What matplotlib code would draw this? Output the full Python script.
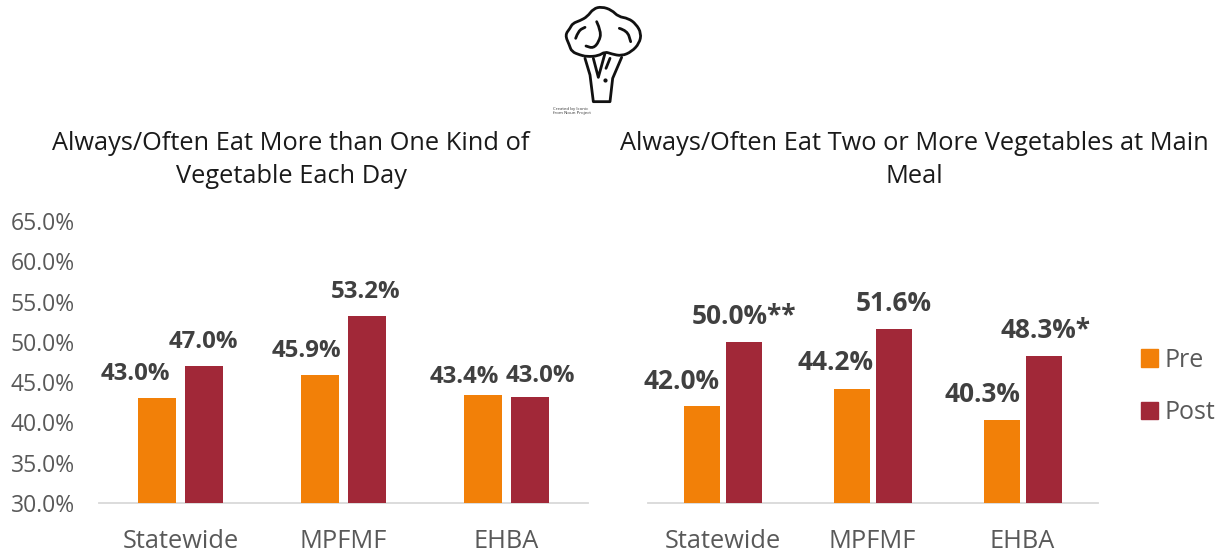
import matplotlib
matplotlib.use('Agg')
import matplotlib.pyplot as plt
from matplotlib.path import Path
from matplotlib.patches import PathPatch, Patch
from matplotlib.ticker import FuncFormatter

plt.rcParams['font.family'] = ['Open Sans', 'DejaVu Sans']

categories = ['Statewide', 'MPFMF', 'EHBA']
series_names = ['Pre', 'Post']

left_title = 'Always/Often Eat More than One Kind of\nVegetable Each Day'
left_pre = [43.0, 45.9, 43.4]
left_post = [47.0, 53.2, 43.2]
left_pre_labels = ['43.0%', '45.9%', '43.4%']
left_post_labels = ['47.0%', '53.2%', '43.0%']

right_title = 'Always/Often Eat Two or More Vegetables at Main\nMeal'
right_pre = [42.0, 44.2, 40.3]
right_post = [50.0, 51.6, 48.3]
right_pre_labels = ['42.0%', '44.2%', '40.3%']
right_post_labels = ['50.0%**', '51.6%', '48.3%*']

y_ticks = [30, 35, 40, 45, 50, 55, 60, 65]

# label nudges in pixels (the original labels were moved by hand)
left_pre_off = [(-21.5, 24), (-14, 24), (-18.5, 18)]
left_post_off = [(0, 24), (-1, 24), (11, 21)]
right_pre_off = [(-20, 25), (-16, 26), (-19, 26)]
right_post_off = [(0, 25), (0, 25), (2, 25)]

ORANGE = '#F28008'
MAROON = '#A12838'
GREY = '#595959'
W, H = 1224, 554

fig = plt.figure(figsize=(12.24, 5.54), dpi=100)


def make_axes(x0, x1):
    ax = fig.add_axes([x0 / W, 1 - 503 / H, (x1 - x0) / W, (503 - 221) / H])
    ax.set_xlim(-0.5, 2.5)
    ax.set_ylim(30, 65)
    ax.patch.set_visible(False)
    for s in ['top', 'left', 'right']:
        ax.spines[s].set_visible(False)
    ax.spines['bottom'].set_color('#D9D9D9')
    ax.spines['bottom'].set_linewidth(1.3)
    ax.set_xticks(range(3))
    ax.set_xticklabels(categories, fontsize=18.3, color=GREY)
    ax.tick_params(axis='x', length=0, pad=18.5)
    ax.set_yticks(y_ticks)
    ax.yaxis.set_major_formatter(FuncFormatter(lambda v, p: '%.1f%%' % v))
    ax.tick_params(axis='y', length=0, pad=17.3, labelsize=16.5, labelcolor=GREY)
    return ax


def draw_group(ax, pre, post, pre_labels, post_labels, pre_off, post_off, off, width, label_size):
    for i in range(3):
        for val, col, sign, lab, nudge in [(pre[i], ORANGE, -1, pre_labels[i], pre_off[i]),
                                           (post[i], MAROON, 1, post_labels[i], post_off[i])]:
            x = i + sign * off
            ax.bar(x, val - 30, width=width, bottom=30, color=col, edgecolor='none', zorder=3)
            ax.annotate(lab, (x, val), xytext=nudge, textcoords='offset pixels', ha='center',
                        va='center', fontsize=label_size, fontweight='bold', color='#404040')


ax1 = make_axes(99, 588)
draw_group(ax1, left_pre, left_post, left_pre_labels, left_post_labels,
           left_pre_off, left_post_off, 0.143, 0.232, 17.3)

ax2 = make_axes(647.5, 1097.5)
ax2.tick_params(axis='y', labelleft=False)
draw_group(ax2, right_pre, right_post, right_pre_labels, right_post_labels,
           right_pre_off, right_post_off, 0.14, 0.24, 18.9)

fig.text(291 / W, 1 - 160 / H, left_title, ha='center', va='center', fontsize=18.25,
         color='#1a1a1a', linespacing=1.45)
fig.text(914 / W, 1 - 160 / H, right_title, ha='center', va='center', fontsize=18.25,
         color='#1a1a1a', linespacing=1.45)

handles = [Patch(color=ORANGE), Patch(color=MAROON)]
fig.legend(handles, series_names, loc='center left', bbox_to_anchor=(1141 / W, 1 - 386.5 / H),
           frameon=False, fontsize=18, labelcolor=GREY, handlelength=0.68, handleheight=0.7,
           handletextpad=0.25, labelspacing=1.1, borderpad=0, borderaxespad=0)

##############################
#
# broccoli icon, traced by hand
#
##############################

icon = fig.add_axes([530 / W, 1 - 120 / H, 130 / W, 120 / H])
icon.set_xlim(0, 390)
icon.set_ylim(360, 0)
icon.axis('off')


def smooth(pts, closed=False):
    # quadratic spline through midpoints
    mids = [((a[0] + b[0]) / 2, (a[1] + b[1]) / 2) for a, b in zip(pts[:-1], pts[1:])]
    if closed:
        verts = [mids[0]]
        codes = [Path.MOVETO]
        for p, m in zip(pts[1:-1], mids[1:]):
            verts += [p, m]
            codes += [Path.CURVE3, Path.CURVE3]
        verts += [pts[0], mids[0]]
        codes += [Path.CURVE3, Path.CURVE3]
    else:
        verts = [pts[0]]
        codes = [Path.MOVETO]
        for p, m in zip(pts[1:-1], mids[1:]):
            verts += [p, m]
            codes += [Path.CURVE3, Path.CURVE3]
        verts.append(pts[-1])
        codes.append(Path.LINETO)
    return Path(verts, codes)


crown = [(170, 170), (150, 165), (125, 155), (118, 135), (105, 105), (120, 85), (128, 70), (150, 62),
         (172, 50), (190, 26), (215, 20), (245, 30), (265, 50), (295, 55), (318, 72), (334, 100),
         (328, 130), (305, 155), (275, 168), (245, 162), (225, 155), (205, 168), (170, 170)]
curls = [[(137, 115), (145, 92), (165, 82)],
         [(200, 65), (214, 95), (207, 125), (190, 145), (168, 138)],
         [(268, 85), (292, 92), (302, 125)]]
stalk = [[(165, 175), (180, 225), (190, 305), (240, 305), (248, 235), (275, 172)],
         [(190, 175), (205, 232), (225, 160)],
         [(228, 205), (240, 175)]]

icon.add_patch(PathPatch(smooth(crown, True), fc='none', ec='#111111', lw=2.0))
for c in curls:
    icon.add_patch(PathPatch(smooth(c), fc='none', ec='#111111', lw=2.0, capstyle='round'))
for s in stalk:
    icon.plot([p[0] for p in s], [p[1] for p in s], color='#111111', lw=2.0, solid_capstyle='round')
icon.plot([226], [240], 'o', color='#111111', ms=2)
icon.text(70, 332, 'Created by Iconic\nfrom Noun Project', fontsize=3.2, color='#333333', va='center',
          ha='left', linespacing=1.1)

plt.savefig('out.png', dpi=100)
